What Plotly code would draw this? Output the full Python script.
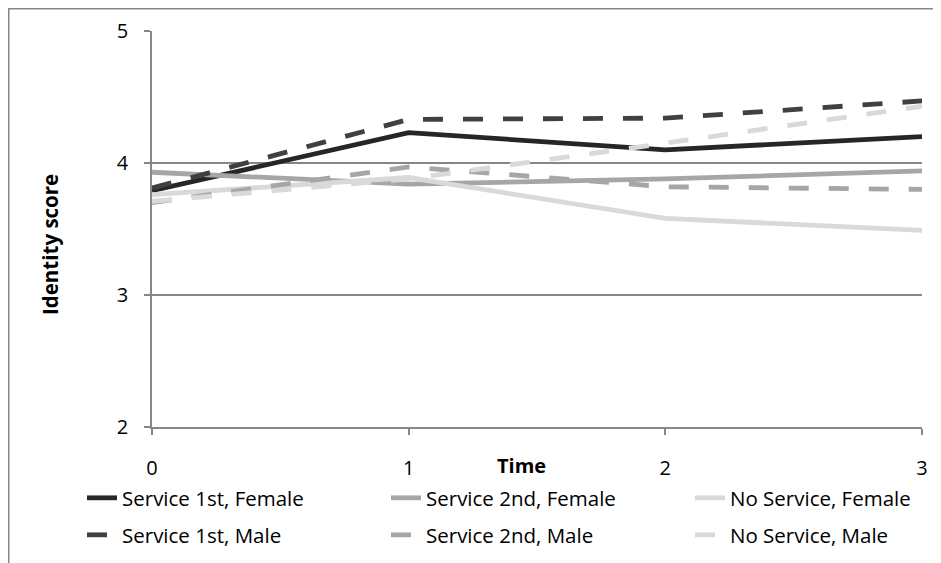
import plotly.graph_objects as go

time_points = [0, 1, 2, 3]
service1_female = [3.79, 4.23, 4.10, 4.20]
service2_female = [3.93, 3.84, 3.88, 3.94]
noservice_female = [3.76, 3.89, 3.58, 3.49]
service1_male = [3.81, 4.33, 4.34, 4.47]
service2_male = [3.70, 3.97, 3.82, 3.80]
noservice_male = [3.71, 3.88, 4.15, 4.43]

y_ticks = [2, 3, 4, 5]
x_ticks = [0, 1, 2, 3]

FONT = "Open Sans"
OFF = 8  # page body margin
W, H = 933, 555
L, R, T, B = 144, 19, 23, 136
pw, ph = W - L - R, H - T - B

def px_x(sx):
    return (sx - OFF - L) / pw

def px_y(sy):
    return (H - B - (sy - OFF)) / ph

series = [
    ("Service 1st, Female", service1_female, "#262626", "solid", "legend", 122, 498),
    ("Service 2nd, Female", service2_female, "#a6a6a6", "solid", "legend2", 426, 498),
    ("No Service, Female", noservice_female, "#d9d9d9", "solid", "legend3", 730, 498),
    ("Service 1st, Male", service1_male, "#404040", "20px,20px", "legend4", 122, 535),
    ("Service 2nd, Male", service2_male, "#a6a6a6", "20px,20px", "legend5", 426, 535),
    ("No Service, Male", noservice_male, "#d9d9d9", "20px,20px", "legend6", 730, 535),
]

fig = go.Figure()
legend_layouts = {}
for name, vals, col, dash, lg, tx, ty in series:
    fig.add_trace(go.Scatter(
        x=time_points, y=vals, name=name, mode="lines",
        line=dict(color=col, width=4.8, dash=dash),
        legend=lg,
    ))
    legend_layouts[lg] = dict(
        orientation="h", x=px_x(tx - 40), y=px_y(ty), xanchor="left", yanchor="middle",
        font=dict(family=FONT, size=20.5, color="black"), bgcolor="rgba(0,0,0,0)",
        borderwidth=0,
    )

axis_col = "#868686"
fig.update_layout(
    width=W, height=H,
    margin=dict(l=L, r=R, t=T, b=B, autoexpand=False),
    paper_bgcolor="white", plot_bgcolor="white",
    font=dict(family=FONT, size=18, color="black"),
    showlegend=True,
    xaxis=dict(range=[0, 3], tickvals=x_ticks, ticktext=[str(v) for v in x_ticks],
               showgrid=False, zeroline=False, showline=True, linecolor=axis_col, linewidth=1.5,
               ticks="outside", ticklen=6, tickcolor=axis_col, tickwidth=1.5,
               ticklabelstandoff=16, tickfont=dict(size=20, family=FONT)),
    yaxis=dict(range=[2, 5], tickvals=y_ticks, ticktext=[str(v) for v in y_ticks],
               showgrid=True, gridcolor=axis_col, gridwidth=1.5, zeroline=False,
               showline=True, linecolor=axis_col, linewidth=1.5,
               ticks="outside", ticklen=6, tickcolor=axis_col, tickwidth=1.5,
               ticklabelstandoff=12, tickfont=dict(size=20, family=FONT)),
    **legend_layouts,
)

fig.add_annotation(text="<b>Identity score</b>", x=px_x(50), y=px_y(245), xref="paper", yref="paper",
                   showarrow=False, textangle=-90, font=dict(size=20.5, family=FONT),
                   xanchor="center", yanchor="middle")
fig.add_annotation(text="<b>Time</b>", x=px_x(521), y=px_y(466), xref="paper", yref="paper",
                   showarrow=False, font=dict(size=20, family=FONT), xanchor="center", yanchor="middle")

# outer chart border (left and top edges visible)
fig.add_shape(type="path", xref="paper", yref="paper",
              path=f"M {px_x(8.75)},{px_y(575)} L {px_x(8.75)},{px_y(8.75)} L {px_x(960)},{px_y(8.75)}",
              line=dict(color=axis_col, width=1.5))

fig.write_html("out.html")
